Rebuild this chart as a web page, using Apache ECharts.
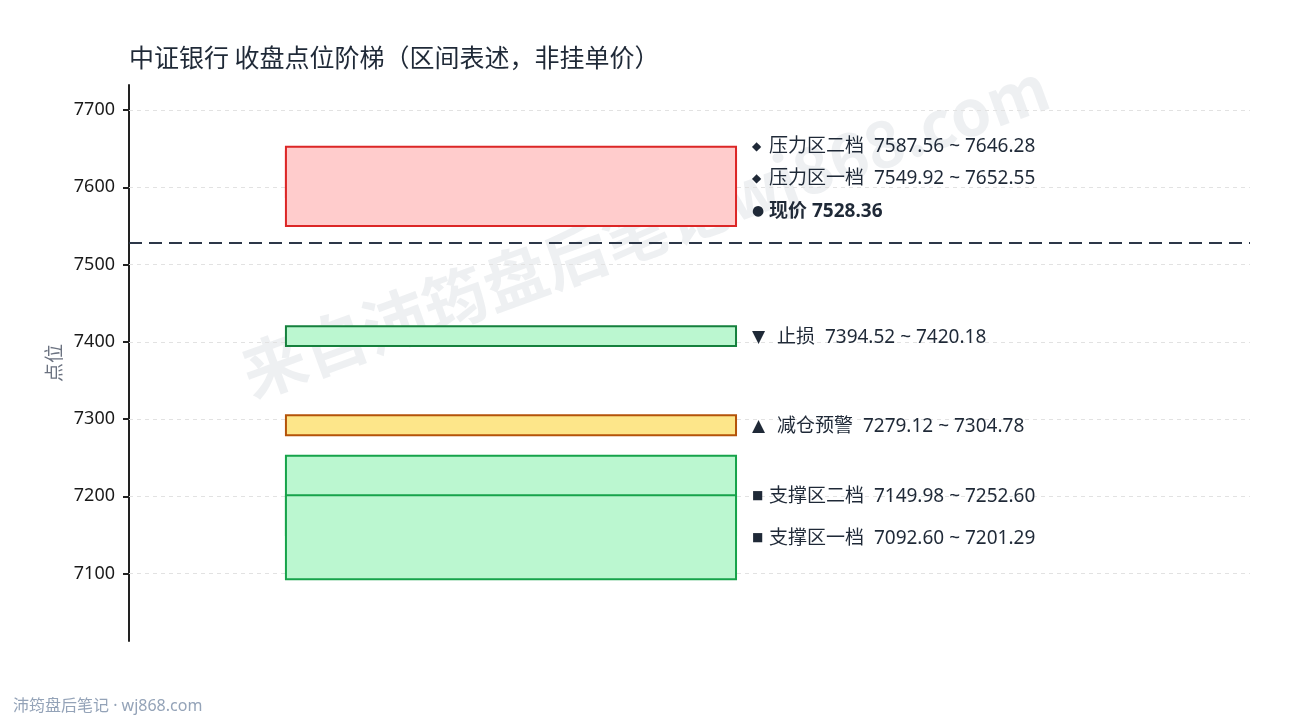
<!DOCTYPE html>
<html>
<head>
<meta charset="utf-8">
<script src="https://cdn.jsdelivr.net/npm/echarts@6/dist/echarts.min.js"></script>
<style>
html,body{margin:0;padding:0;background:#fff;}
#chart{width:1290px;height:720px;}
</style>
</head>
<body>
<div id="chart"></div>
<script>
// ---- data ----
const zoneNames = ['压力区二档', '压力区一档', '止损', '减仓预警', '支撑区二档', '支撑区一档'];
const zoneLow   = [7587.56, 7549.92, 7394.52, 7279.12, 7149.98, 7092.60];
const zoneHigh  = [7646.28, 7652.55, 7420.18, 7304.78, 7252.60, 7201.29];
const zoneKind  = ['pressure', 'pressure', 'stop', 'warn', 'support', 'support'];
const currentPrice = 7528.36;
const currentName = '现价';
const yTicks = [7100, 7200, 7300, 7400, 7500, 7600, 7700];

// ---- styles ----
const kindStyle = {
  pressure: { fill: '#ffcccc', stroke: '#dc2626', marker: '◆', mSize: 12 },
  stop:     { fill: '#bbf7d0', stroke: '#15803d', marker: '▼', mSize: 17 },
  warn:     { fill: '#fde68a', stroke: '#b45309', marker: '▲', mSize: 17 },
  support:  { fill: '#bbf7d0', stroke: '#16a34a', marker: '■', mSize: 12 }
};
const TEXT_COLOR = '#1f2937';
const LABEL_FONT = '"Noto Sans", "Noto Sans CJK SC", sans-serif';
const CJK_FONT = '"Noto Sans CJK SC", "Noto Sans", sans-serif';
const pad = 80;
const yMin = Math.min.apply(null, zoneLow) - pad;
const yMax = Math.max.apply(null, zoneHigh) + pad;
const labelGap = 42;

// label de-overlap in value space
const labelItems = zoneNames.map((n, i) => ({ idx: i, v: (zoneLow[i] + zoneHigh[i]) / 2 }));
labelItems.push({ idx: -1, v: currentPrice + labelGap });
labelItems.sort((a, b) => a.v - b.v);
for (let i = 1; i < labelItems.length; i++) {
  if (labelItems[i].v < labelItems[i - 1].v + labelGap) labelItems[i].v = labelItems[i - 1].v + labelGap;
}
const anchor = {};
labelItems.forEach(it => { anchor[it.idx] = it.v; });

const boxX0 = 0.14, boxX1 = 0.5415;

const zoneData = zoneNames.map((n, i) => [zoneLow[i], zoneHigh[i], anchor[i]]);
zoneData.push([currentPrice, currentPrice, anchor[-1]]);

function fmt(v) { return v.toFixed(2); }

const chart = echarts.init(document.getElementById('chart'));
chart.setOption({
  backgroundColor: '#ffffff',
  animation: false,
  title: {
    text: '中证银行 收盘点位阶梯（区间表述，非挂单价）',
    left: 124, top: 40,
    textStyle: { fontSize: 25, fontWeight: 'normal', color: '#1f2937', fontFamily: CJK_FONT }
  },
  grid: { left: 129, right: 40, top: 85, bottom: 79 },
  xAxis: { type: 'value', min: 0, max: 1, show: false },
  yAxis: {
    type: 'value', min: yMin, max: yMax,
    name: '点位', nameLocation: 'middle', nameGap: 64,
    nameTextStyle: { fontSize: 19, color: '#6b7280', fontFamily: CJK_FONT },
    axisLine: { show: true, lineStyle: { color: '#222222', width: 2 } },
    axisTick: { show: true, length: 6, customValues: yTicks, lineStyle: { color: '#222222', width: 2 } },
    axisLabel: { customValues: yTicks, fontSize: 18, color: '#1a1a1a', margin: 14, fontFamily: '"Noto Sans", sans-serif',
      formatter: v => String(Math.round(v)) },
    splitLine: { show: false }
  },
  graphic: [
    {
      type: 'text', z: 0, left: 13, top: 698,
      style: { text: '沛筠盘后笔记 · wj868.com', fontSize: 16, fill: '#94a3b8', fontFamily: LABEL_FONT }
    },
    {
      type: 'text', z: -1, x: 645, y: 230, rotation: Math.PI / 9,
      style: { text: '来自沛筠盘后笔记wj868.com', fontSize: 64, fontWeight: 'bold',
        fill: 'rgba(100,116,139,0.11)', align: 'center', verticalAlign: 'middle', fontFamily: CJK_FONT }
    }
  ],
  series: [
    {
      type: 'line', z: 1, data: [], silent: true,
      markLine: {
        z: 1,
        silent: true, symbol: 'none', label: { show: false },
        lineStyle: { color: '#e2e2e2', type: [4, 4], width: 1 },
        data: yTicks.map(t => ({ yAxis: t }))
      }
    },
    {
      type: 'custom', z: 3,
      data: zoneData,
      encode: { y: [0, 1] },
      renderItem: function (params, api) {
        const i = params.dataIndex;
        const lo = api.value(0), hi = api.value(1), an = api.value(2);
        const pTop = api.coord([boxX0, hi]);
        const pBot = api.coord([boxX1, lo]);
        const pA = api.coord([boxX1, an]);
        const lx = pBot[0] + 16;
        const ty = pA[1] + 1;
        const children = [];
        if (i < zoneNames.length) {
          const st = kindStyle[zoneKind[i]];
          children.push({
            type: 'rect',
            shape: { x: pTop[0], y: pTop[1], width: pBot[0] - pTop[0], height: pBot[1] - pTop[1] },
            style: { fill: st.fill, stroke: st.stroke, lineWidth: 2 }
          });
          const tri = st.marker === '▼' || st.marker === '▲';
          children.push({
            type: 'text',
            style: { text: st.marker, x: lx, y: ty, fontSize: st.mSize, fill: TEXT_COLOR,
              fontFamily: '"DejaVu Sans", sans-serif', verticalAlign: 'middle', align: 'left' }
          });
          children.push({
            type: 'text',
            style: { text: zoneNames[i] + '  ' + fmt(zoneLow[i]) + ' ~ ' + fmt(zoneHigh[i]),
              x: lx + (tri ? 25 : 17), y: ty, fontSize: 19, fill: TEXT_COLOR,
              fontFamily: LABEL_FONT, verticalAlign: 'middle', align: 'left' }
          });
        } else {
          children.push({
            type: 'text',
            style: { text: '●', x: lx, y: ty, fontSize: 14, fill: TEXT_COLOR,
              fontFamily: '"DejaVu Sans", sans-serif', verticalAlign: 'middle', align: 'left' }
          });
          children.push({
            type: 'text',
            style: { text: currentName + ' ' + fmt(currentPrice), x: lx + 17, y: ty, fontSize: 19,
              fontWeight: 'bold', fill: TEXT_COLOR, fontFamily: LABEL_FONT, verticalAlign: 'middle', align: 'left' }
          });
        }
        return { type: 'group', children: children };
      }
    },
    {
      type: 'line', z: 5, data: [], silent: true,
      markLine: {
        z: 6,
        silent: true, symbol: 'none', label: { show: false },
        lineStyle: { color: '#2d3748', type: [13, 7], width: 2 },
        data: [{ yAxis: currentPrice }]
      }
    }
  ]
});
</script>
</body>
</html>
